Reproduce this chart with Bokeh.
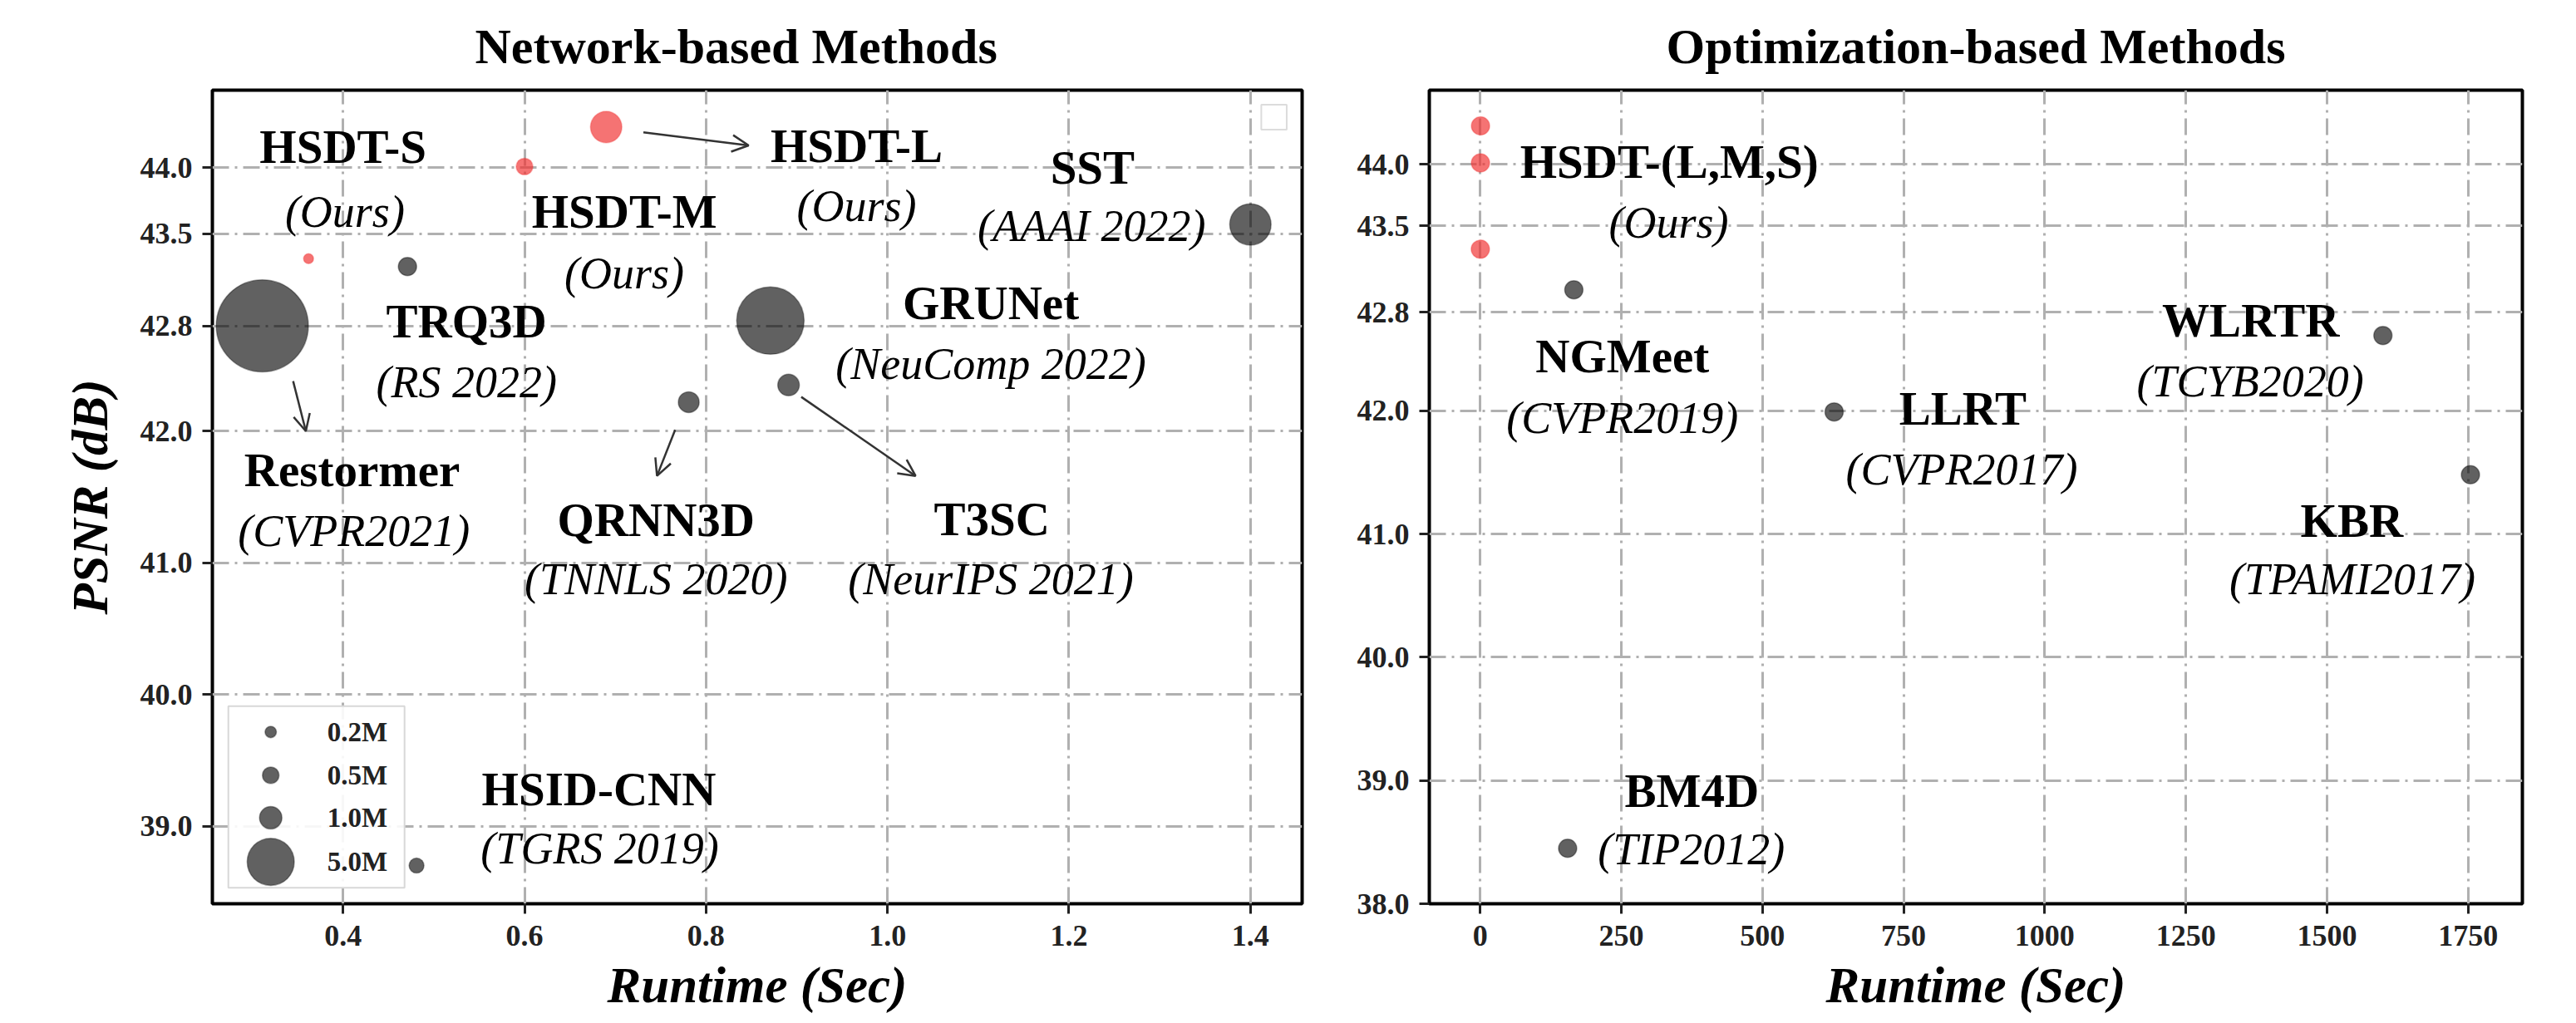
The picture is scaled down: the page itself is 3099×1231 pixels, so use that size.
import math
from bokeh.plotting import figure
from bokeh.layouts import row
from bokeh.models import Arrow, OpenHead, PrintfTickFormatter, FixedTicker, ColumnDataSource, Range1d
from bokeh.core.properties import value
from bokeh.embed import file_html
from bokeh.resources import INLINE

# ---------------- data: network-based methods ----------------
net_methods = ["HSDT-S", "HSDT-M", "HSDT-L", "TRQ3D", "Restormer", "GRUNet", "QRNN3D", "T3SC", "SST", "HSID-CNN"]
net_venues = ["(Ours)", "(Ours)", "(Ours)", "(RS 2022)", "(CVPR2021)", "(NeuComp 2022)", "(TNNLS 2020)",
              "(NeurIPS 2021)", "(AAAI 2022)", "(TGRS 2019)"]
net_runtime = [0.362, 0.600, 0.690, 0.471, 0.311, 0.871, 0.781, 0.891, 1.400, 0.481]
net_psnr = [43.31, 44.01, 44.31, 43.25, 42.80, 42.84, 42.22, 42.35, 43.57, 38.70]
net_params = [0.14, 0.50, 2.10, 0.63, 20.2, 10.6, 0.85, 0.92, 3.8, 0.39]   # millions
net_ours = [True, True, True, False, False, False, False, False, False, False]

# ---------------- data: optimization-based methods ----------------
opt_methods = ["NGMeet", "LLRT", "BM4D", "WLRTR", "KBR"]
opt_venues = ["(CVPR2019)", "(CVPR2017)", "(TIP2012)", "(TCYB2020)", "(TPAMI2017)"]
opt_runtime = [166, 627, 155, 1599, 1754]
opt_psnr = [42.98, 41.99, 38.45, 42.61, 41.48]

# legend of model sizes
legend_params = [0.2, 0.5, 1.0, 5.0]
legend_labels = ["0.2M", "0.5M", "1.0M", "5.0M"]

# ticks
net_xticks = [0.4, 0.6, 0.8, 1.0, 1.2, 1.4]
net_yticks = [39.0, 40.0, 41.0, 42.0, 42.8, 43.5, 44.0]
opt_xticks = [0, 250, 500, 750, 1000, 1250, 1500, 1750]
opt_yticks = [38.0, 39.0, 40.0, 41.0, 42.0, 42.8, 43.5, 44.0]

# ---------------- annotation placement (layout, not data) ----------------
net_name_pos = [(0.400, 44.16), (0.710, 43.67), (0.966, 44.165), (0.536, 42.835), (0.410, 41.703),
                (1.114, 42.975), (0.745, 41.325), (1.115, 41.33), (1.226, 44.006), (0.682, 39.278)]
net_venue_pos = [(0.402, 43.665), (0.710, 43.20), (0.966, 43.71), (0.536, 42.373), (0.412, 41.24),
                 (1.114, 42.513), (0.745, 40.873), (1.114, 40.873), (1.225, 43.557), (0.683, 38.829)]
net_arrows = [((0.731, 44.27), (0.847, 44.17)),
              ((0.345, 42.38), (0.359, 42.00)),
              ((0.766, 42.01), (0.746, 41.66)),
              ((0.905, 42.26), (1.031, 41.66))]
opt_name_pos = [(252, 42.44), (855, 42.016), (375, 38.915), (1365, 42.73), (1544, 41.106)]
opt_venue_pos = [(252, 41.94), (853, 41.52), (374, 38.44), (1364, 42.24), (1545, 40.635)]
ours_name_pos = (335, 44.017)
ours_venue_pos = (334, 43.525)

FONT = "Liberation Serif"
GRAY = "#000000"
RED = "#f03030"
GRID = "#b0b0b0"


def diam(p):
    return 24 * math.sqrt(p) + 3


def style(p, xticks, yticks, xfmt, ylabel):
    p.outline_line_color = "black"
    p.outline_line_width = 4
    p.background_fill_color = "white"
    p.border_fill_color = "white"
    p.title.text_font = FONT
    p.title.text_font_style = "bold"
    p.title.text_font_size = "60px"
    p.title.text_color = "black"
    p.title.align = "center"
    p.title.standoff = 40
    for ax in (p.xaxis, p.yaxis):
        ax.axis_line_color = None
        ax.major_tick_out = 12
        ax.major_tick_in = 0
        ax.major_tick_line_width = 3
        ax.major_tick_line_color = "#222222"
        ax.minor_tick_line_color = None
        ax.major_label_text_font = FONT
        ax.major_label_text_font_style = "bold"
        ax.major_label_text_font_size = "36px"
        ax.major_label_text_color = "#222222"
        ax.axis_label_text_font = FONT
        ax.axis_label_text_font_style = "bold italic"
        ax.axis_label_text_font_size = "61px"
        ax.axis_label_text_color = "black"
    p.xaxis.ticker = FixedTicker(ticks=xticks)
    p.yaxis.ticker = FixedTicker(ticks=yticks)
    p.xaxis.formatter = PrintfTickFormatter(format=xfmt)
    p.yaxis.formatter = PrintfTickFormatter(format="%.1f")
    p.xaxis.major_label_standoff = 14
    p.yaxis.major_label_standoff = 12
    p.xaxis.axis_label = "Runtime (Sec)"
    p.xaxis.axis_label_standoff = 11
    if ylabel:
        p.yaxis.axis_label = ylabel
        p.yaxis.axis_label_standoff = 24
    for g in (p.xgrid, p.ygrid):
        g.grid_line_color = GRID
        g.grid_line_width = 3
        g.grid_line_dash = "20 7 3 7"


# ---------------- left panel ----------------
p1 = figure(title="Network-based Methods", output_backend="svg", toolbar_location=None,
            frame_width=1311, frame_height=979,
            min_border_left=255, min_border_right=60, min_border_top=105, min_border_bottom=125,
            x_range=Range1d(0.256, 1.457), y_range=Range1d(38.41, 44.59))
style(p1, net_xticks, net_yticks, "%.1f", "PSNR (dB)")
p1.title.align = "left"
p1.title.offset = 316

src1 = ColumnDataSource(dict(
    x=net_runtime, y=net_psnr, size=[diam(v) for v in net_params],
    color=[RED if o else GRAY for o in net_ours],
    alpha=[0.68 if o else 0.62 for o in net_ours],
))
p1.scatter("x", "y", size="size", source=src1, fill_color="color", fill_alpha="alpha",
           line_color="color", line_alpha=0.35, line_width=1.5)

# arrows
for (s, e) in net_arrows:
    p1.add_layout(Arrow(end=OpenHead(size=20, line_width=2.5, line_color="#333333"),
                        x_start=s[0], y_start=s[1], x_end=e[0], y_end=e[1],
                        line_width=2.5, line_color="#333333"))

p1.text(x=[q[0] for q in net_name_pos], y=[q[1] for q in net_name_pos], text=net_methods,
        text_font=value(FONT), text_font_style="bold", text_font_size="57px",
        text_align="center", text_baseline="middle", text_color="black")
p1.text(x=[q[0] for q in net_venue_pos], y=[q[1] for q in net_venue_pos], text=net_venues,
        text_font=value(FONT), text_font_style="italic", text_font_size="54px",
        text_align="center", text_baseline="middle", text_color="black")

# size legend (drawn manually so marker sizes follow the parameter counts)
lx0, lx1, ly0, ly1 = 0.2736, 0.4678, 38.532, 39.911
p1.quad(left=[lx0], right=[lx1], bottom=[ly0], top=[ly1], fill_color="white", fill_alpha=0.9,
        line_color="#d8d8d8", line_width=2)
leg_y = [39.715, 39.386, 39.063, 38.728]
p1.scatter(x=[0.3203] * 4, y=leg_y, size=[diam(v) for v in legend_params], fill_color=GRAY,
           fill_alpha=0.62, line_color=GRAY, line_alpha=0.35, line_width=1.5)
p1.text(x=[0.3826] * 4, y=leg_y, text=legend_labels, text_font=value(FONT), text_font_style="bold",
        text_font_size="33px", text_align="left", text_baseline="middle", text_color="#222222")
# empty legend frame left by the original figure
p1.quad(left=[1.412], right=[1.440], bottom=[44.29], top=[44.48], fill_color="white",
        fill_alpha=0.8, line_color="#dcdcdc", line_width=2)

# ---------------- right panel ----------------
p2 = figure(title="Optimization-based Methods", output_backend="svg", toolbar_location=None,
            frame_width=1315, frame_height=979,
            min_border_left=93, min_border_right=45, min_border_top=105, min_border_bottom=125,
            x_range=Range1d(-90, 1846), y_range=Range1d(38.0, 44.6))
style(p2, opt_xticks, opt_yticks, "%d", None)

ours_rt = [net_runtime[i] for i in range(len(net_methods)) if net_ours[i]]
ours_ps = [net_psnr[i] for i in range(len(net_methods)) if net_ours[i]]
p2.scatter(x=ours_rt, y=ours_ps, size=22, fill_color=RED, fill_alpha=0.68,
           line_color=RED, line_alpha=0.35, line_width=1.5)
p2.scatter(x=opt_runtime, y=opt_psnr, size=22, fill_color=GRAY, fill_alpha=0.62,
           line_color=GRAY, line_alpha=0.35, line_width=1.5)

p2.text(x=[q[0] for q in opt_name_pos] + [ours_name_pos[0]],
        y=[q[1] for q in opt_name_pos] + [ours_name_pos[1]],
        text=opt_methods + ["HSDT-(L,M,S)"],
        text_font=value(FONT), text_font_style="bold", text_font_size="57px",
        text_align="center", text_baseline="middle", text_color="black")
p2.text(x=[q[0] for q in opt_venue_pos] + [ours_venue_pos[0]],
        y=[q[1] for q in opt_venue_pos] + [ours_venue_pos[1]],
        text=opt_venues + ["(Ours)"],
        text_font=value(FONT), text_font_style="italic", text_font_size="54px",
        text_align="center", text_baseline="middle", text_color="black")

layout = row(p1, p2)
open("out.html", "w").write(file_html(layout, INLINE))
